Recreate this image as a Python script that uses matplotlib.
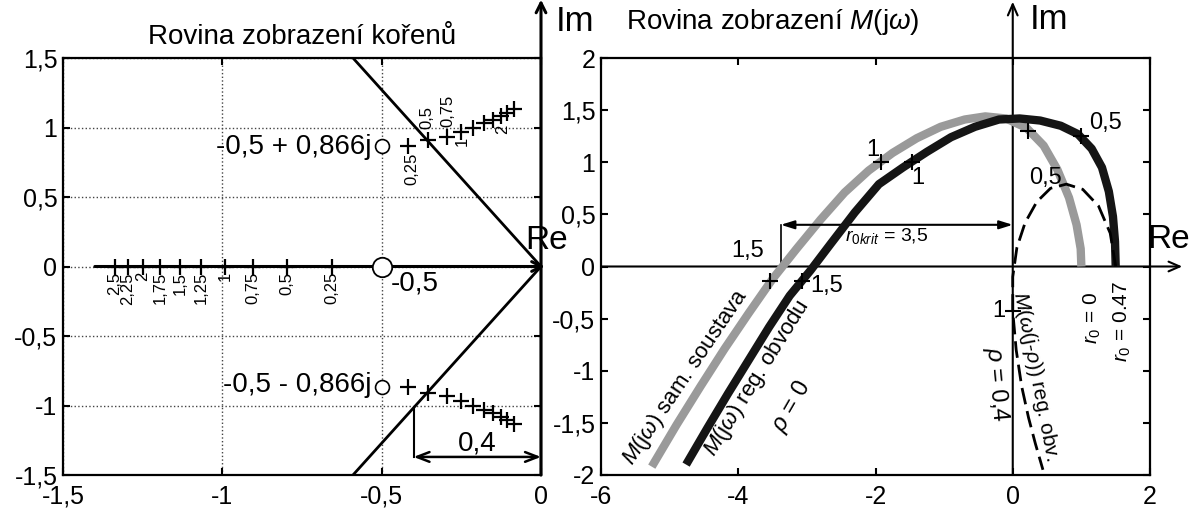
import matplotlib
matplotlib.use("Agg")
import matplotlib.pyplot as plt

plt.rcParams['font.family'] = ['Liberation Sans', 'DejaVu Sans']
plt.rcParams['mathtext.fontset'] = 'custom'
plt.rcParams['mathtext.rm'] = 'Liberation Sans'
plt.rcParams['mathtext.it'] = 'Liberation Sans:italic'

# --- rovina korenu: realna vetev ---
real_params = ['2,5', '2,25', '2', '1,75', '1,5', '1,25', '1', '0,75', '0,5', '0,25']
real_roots = [-1.337, -1.296, -1.249, -1.196, -1.133, -1.067, -0.992, -0.904, -0.797, -0.656]

# komplexni vetev (horni), dolni je zrcadlova
cplx_params = [0.25, 0.5, 0.75, 1, 1.25, 1.5, 1.75, 2, 2.25, 2.5]
cplx_re = [-0.417, -0.355, -0.295, -0.252, -0.213, -0.180, -0.150, -0.127, -0.107, -0.085]
cplx_im = [0.870, 0.910, 0.935, 0.970, 1.000, 1.030, 1.055, 1.080, 1.105, 1.130]
cplx_labels = ['0,25', '0,5', '0,75', '1', '2']
cplx_label_re = [-0.405, -0.357, -0.292, -0.247, -0.120]
cplx_label_im = [0.70, 1.07, 1.12, 0.90, 0.99]

zeros_re = [-0.5, -0.5, -0.5]
zeros_im = [0.866, 0.0, -0.866]

damp_re = [0, -0.59]
damp_im = [0, 1.5]
shift = 0.4

# --- rovina M(jw) ---
gray_re = [-5.26, -4.9, -4.55, -4.2, -3.85, -3.5, -3.15, -2.8, -2.45, -2.1, -1.75, -1.4,
           -1.05, -0.7, -0.4, -0.1, 0.2, 0.45, 0.65, 0.82, 0.93, 0.99, 1.0]
gray_im = [-1.92, -1.52, -1.15, -0.79, -0.45, -0.12, 0.17, 0.45, 0.71, 0.92, 1.09, 1.23,
           1.34, 1.41, 1.44, 1.42, 1.33, 1.16, 0.93, 0.66, 0.40, 0.17, 0.0]

black_re = [-4.76, -4.45, -4.15, -3.85, -3.55, -3.25, -2.95, -2.65, -2.3, -1.95, -1.6, -1.25,
            -0.9, -0.55, -0.2, 0.1, 0.4, 0.7, 0.95, 1.15, 1.3, 1.4, 1.46, 1.49, 1.5]
black_im = [-1.90, -1.55, -1.22, -0.90, -0.58, -0.28, -0.04, 0.22, 0.52, 0.79, 0.95, 1.10,
            1.24, 1.34, 1.41, 1.42, 1.40, 1.35, 1.27, 1.13, 0.95, 0.72, 0.48, 0.24, 0.0]

dash_re = [1.5, 1.42, 1.25, 1.02, 0.78, 0.55, 0.35, 0.18, 0.06, 0.0, 0.0, 0.05, 0.13, 0.23, 0.33, 0.44]
dash_im = [0.0, 0.32, 0.58, 0.74, 0.79, 0.75, 0.62, 0.42, 0.18, -0.1, -0.43, -0.8, -1.15, -1.45, -1.7, -1.95]

marks_re = [-1.92, -1.47, -3.54, -3.07, 0.22, 1.0, 0.0]
marks_im = [1.0, 1.0, -0.14, -0.14, 1.30, 1.25, -0.43]
marks_labels = ['1', '1', '1,5', '1,5', '0,5', '0,5', '1']
marks_label_re = [-2.04, -1.39, -3.87, -2.71, 0.47, 1.35, -0.2]
marks_label_im = [1.12, 0.85, 0.15, -0.19, 0.85, 1.38, -0.43]

r0krit = -3.38
r0krit_y = 0.40

fig = plt.figure(figsize=(12, 5.12), dpi=100)
axL = fig.add_axes([63/1200, 37/512, 478/1200, 417/512])
axR = fig.add_axes([601/1200, 37/512, 549/1200, 417/512])

for ax in (axL, axR):
    for s in ax.spines.values():
        s.set_linewidth(1.6)
    ax.tick_params(direction='in', length=5, width=1.5, top=True, right=True,
                   labelsize=18, pad=4)
    ax.tick_params(axis='x', pad=7)

# ---------------- levy graf ----------------
axL.set_xlim(-1.5, 0)
axL.set_ylim(-1.5, 1.5)
axL.set_xticks([-1.5, -1, -0.5, 0])
axL.set_xticklabels(['-1,5', '-1', '-0,5', '0'])
axL.set_yticks([-1.5, -1, -0.5, 0, 0.5, 1, 1.5])
axL.set_yticklabels(['-1,5', '-1', '-0,5', '0', '0,5', '1', '1,5'])
axL.grid(True, linestyle=':', color='#444444', lw=1)
axL.set_title('Rovina zobrazení kořenů', fontsize=20, pad=10)

arr = dict(arrowstyle='->,head_length=0.7,head_width=0.35', lw=2.2, color='k',
           shrinkA=0, shrinkB=0)
axL.annotate('', xy=(0.012, 0), xytext=(-1.4, 0), arrowprops=arr, annotation_clip=False)
axL.annotate('', xy=(0, 1.92), xytext=(0, -1.5), arrowprops=arr, annotation_clip=False)
axL.text(0.019, 0.19, 'Re', fontsize=24, ha='center', va='center', clip_on=False)
axL.text(0.047, 1.76, 'Im', fontsize=25, ha='left', va='center', clip_on=False)

axL.plot(damp_re, damp_im, color='k', lw=2)
axL.plot(damp_re, [-v for v in damp_im], color='k', lw=2)

y_diag = -shift * damp_im[1] / -damp_re[1]
axL.plot([-shift, -shift], [y_diag, -1.37], color='k', lw=1.5)
axL.annotate('', xy=(0, -1.37), xytext=(-shift, -1.37),
             arrowprops=dict(arrowstyle='<->,head_length=0.9,head_width=0.35', lw=1.8,
                             color='k', shrinkA=0, shrinkB=0), annotation_clip=False)
axL.text(-0.2, -1.27, '0,4', fontsize=20, ha='center', va='center')

axL.plot(real_roots, [0] * len(real_roots), '+', color='k', ms=12, mew=1.6, zorder=6)
for x, lab in zip(real_roots, real_params):
    axL.text(x, -0.04, lab, rotation=90, ha='center', va='top', fontsize=12)

axL.plot(cplx_re, cplx_im, '+', color='k', ms=12, mew=1.6, zorder=6)
axL.plot(cplx_re, [-v for v in cplx_im], '+', color='k', ms=12, mew=1.6, zorder=6)
for x, y, lab in zip(cplx_label_re, cplx_label_im, cplx_labels):
    axL.text(x, y, lab, rotation=90, ha='center', va='center', fontsize=12)

axL.plot(zeros_re[1], zeros_im[1], 'o', ms=14, mfc='white', mec='k', mew=1.3, zorder=7)
axL.plot([zeros_re[0], zeros_re[2]], [zeros_im[0], zeros_im[2]], 'o', ms=10,
         mfc='white', mec='k', mew=1.2, zorder=7)
axL.text(-0.533, 0.863, '-0,5 + 0,866j', fontsize=20, ha='right', va='center')
axL.text(-0.533, -0.856, '-0,5 - 0,866j', fontsize=20, ha='right', va='center')
axL.text(-0.47, -0.12, '-0,5', fontsize=20, ha='left', va='center')

# ---------------- pravy graf ----------------
axR.set_xlim(-6, 2)
axR.set_ylim(-2, 2)
axR.set_xticks([-6, -4, -2, 0, 2])
axR.set_xticklabels(['-6', '-4', '-2', '0', '2'])
axR.set_yticks([-2, -1.5, -1, -0.5, 0, 0.5, 1, 1.5, 2])
axR.set_yticklabels(['-2', '-1,5', '-1', '-0,5', '0', '0,5', '1', '1,5', '2'])

arr2 = dict(arrowstyle='->,head_length=0.8,head_width=0.35', lw=1.5, color='k',
            shrinkA=0, shrinkB=0)
axR.annotate('', xy=(2.47, 0), xytext=(-6, 0), arrowprops=arr2, annotation_clip=False)
axR.annotate('', xy=(0, 2.54), xytext=(0, -2), arrowprops=arr2, annotation_clip=False)
axR.text(2.27, 0.26, 'Re', fontsize=24, ha='center', va='center', clip_on=False)
axR.text(0.25, 2.37, 'Im', fontsize=25, ha='left', va='center', clip_on=False)
axR.text(-3.5, 2.35, 'Rovina zobrazení $M$(j$\\omega$)', fontsize=20, ha='center',
         va='center', clip_on=False)

axR.plot(gray_re, gray_im, color='#9a9a9a', lw=6, solid_capstyle='butt', zorder=3)
axR.plot(black_re, black_im, color='#151515', lw=6, solid_capstyle='butt', zorder=4)
axR.plot(dash_re, dash_im, color='k', lw=2, ls=(0, (6, 2.5)), zorder=5)

axR.plot(marks_re, marks_im, '+', color='k', ms=12, mew=1.5, zorder=6)
for x, y, lab in zip(marks_label_re, marks_label_im, marks_labels):
    axR.text(x, y, lab, fontsize=17, ha='center', va='center')

axR.plot([r0krit, r0krit], [0, r0krit_y], color='k', lw=1.2)
axR.annotate('', xy=(0, r0krit_y), xytext=(r0krit, r0krit_y),
             arrowprops=dict(arrowstyle='<|-|>,head_length=0.8,head_width=0.25', lw=1.5,
                             color='k', shrinkA=0, shrinkB=0))
axR.text(-2.45, 0.29, '$r_{0krit}$ = 3,5', fontsize=14, ha='left', va='center')

axR.text(-4.76, -1.06, '$M$(j$\\omega$) sam. soustava', fontsize=16, rotation=56,
         ha='center', va='center')
axR.text(-3.72, -1.07, '$M$(j$\\omega$) reg. obvodu', fontsize=16, rotation=58,
         ha='center', va='center')
axR.text(-3.23, -1.34, '$\\rho$ = 0', fontsize=17, rotation=60, ha='center', va='center')
axR.text(-0.24, -1.13, '$\\rho$ = 0,4', fontsize=17, rotation=-85, ha='center', va='center')
axR.text(0.33, -1.05, '$M$($\\omega$(j-$\\rho$)) reg. obv.', fontsize=15, rotation=-79,
         ha='center', va='center')
axR.text(1.16, -0.49, '$r_0$ = 0', fontsize=15, rotation=90, ha='center', va='center')
axR.text(1.59, -0.53, '$r_0$ = 0.47', fontsize=15, rotation=90, ha='center', va='center')

fig.savefig('out.png', dpi=100)
